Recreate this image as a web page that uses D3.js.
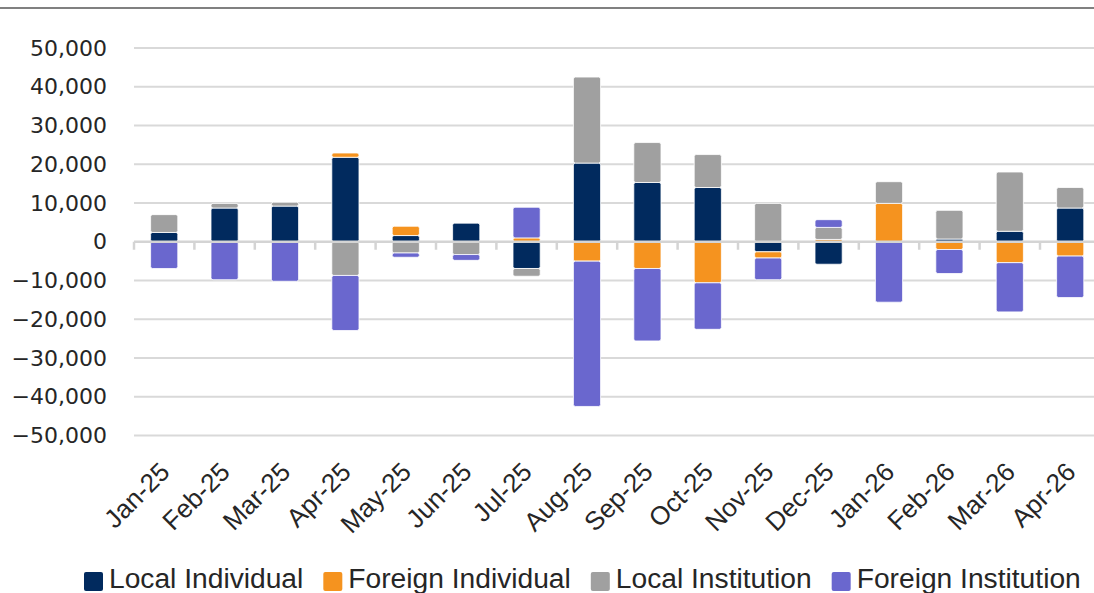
<!DOCTYPE html>
<html>
<head>
<meta charset="utf-8">
<script src="https://cdn.jsdelivr.net/npm/d3@7"></script>
<style>
  body { margin: 0; background: #fff; }
  svg { display: block; }
</style>
</head>
<body>
<div id="chart"></div>
<script>
const months = ['Jan-25', 'Feb-25', 'Mar-25', 'Apr-25', 'May-25', 'Jun-25', 'Jul-25', 'Aug-25',
  'Sep-25', 'Oct-25', 'Nov-25', 'Dec-25', 'Jan-26', 'Feb-26', 'Mar-26', 'Apr-26'];
const localIndividual = [2400, 8700, 9200, 21800, 1600, 4800, -6900, 20300, 15300, 14000, -2600, -5800, 0, 700, 2700, 8700];
const foreignIndividual = [0, 0, 0, 1100, 2400, 0, 1000, -5000, -6900, -10600, -1600, 600, 9900, -2000, -5400, -3700];
const localInstitution = [4600, 1200, 1000, -8700, -2900, -3300, -2000, 22200, 10300, 8500, 9900, 3100, 5600, 7400, 15300, 5300];
const foreignInstitution = [-6900, -9800, -10200, -14200, -1100, -1500, 7900, -37500, -18700, -12000, -5600, 2000, -15600, -6200, -12700, -10700];
const seriesNames = ['Local Individual', 'Foreign Individual', 'Local Institution', 'Foreign Institution'];
const yTicks = [-50000, -40000, -30000, -20000, -10000, 0, 10000, 20000, 30000, 40000, 50000];

const colors = ['#012a5e', '#f5931f', '#a0a0a0', '#6a67ce'];
const width = 1094, height = 593;

const table = months.map((m, i) => ({
  month: m,
  'Local Individual': localIndividual[i],
  'Foreign Individual': foreignIndividual[i],
  'Local Institution': localInstitution[i],
  'Foreign Institution': foreignInstitution[i],
}));

const svg = d3.select('#chart').append('svg')
  .attr('width', width)
  .attr('height', height);

// thin frame line at top
svg.append('line')
  .attr('x1', 0).attr('x2', width)
  .attr('y1', 8).attr('y2', 8)
  .attr('stroke', '#808080').attr('stroke-width', 2);

const x = d3.scaleBand().domain(months).range([134, 1100.4])
  .paddingInner(0.55).paddingOuter(0.275);
const y = d3.scaleLinear().domain([-50000, 50000]).range([435.5, 48]);

// gridlines
svg.append('g')
  .selectAll('line')
  .data(yTicks.filter(d => d !== 0))
  .join('line')
  .attr('x1', 134).attr('x2', 1100)
  .attr('y1', d => y(d)).attr('y2', d => y(d))
  .attr('stroke', '#d9d9d9').attr('stroke-width', 2);

// y axis labels
const yAxis = svg.append('g')
  .attr('transform', 'translate(107,0)')
  .call(d3.axisLeft(y).tickValues(yTicks).tickSize(0).tickPadding(0).tickFormat(d3.format(',')));
yAxis.select('.domain').remove();
yAxis.selectAll('text')
  .attr('font-family', '"DejaVu Sans", sans-serif')
  .attr('font-size', 22)
  .attr('fill', '#262626');

const stack = d3.stack().keys(seriesNames).offset(d3.stackOffsetDiverging);
const layers = stack(table);

svg.append('g')
  .selectAll('g')
  .data(layers)
  .join('g')
  .attr('fill', (d, i) => colors[i])
  .selectAll('rect')
  .data(d => d)
  .join('rect')
  .attr('x', d => x(d.data.month))
  .attr('width', x.bandwidth())
  .attr('y', d => y(Math.max(d[0], d[1])))
  .attr('height', d => Math.abs(y(d[0]) - y(d[1])))
  .attr('rx', 2)
  .attr('stroke', '#fff')
  .attr('stroke-width', 0.8);

// zero axis with category boundary ticks
const axisG = svg.append('g')
  .attr('transform', `translate(0,${y(0)})`);
axisG.append('line')
  .attr('x1', 134).attr('x2', 1100)
  .attr('stroke', '#d4d4d4').attr('stroke-width', 2.5);
const step = x.step();
axisG.selectAll('line.tick')
  .data(d3.range(months.length + 1))
  .join('line')
  .attr('class', 'tick')
  .attr('x1', i => 134 + i * step).attr('x2', i => 134 + i * step)
  .attr('y1', 0).attr('y2', 8)
  .attr('stroke', '#d4d4d4').attr('stroke-width', 2.5);

// rotated month labels
svg.append('g')
  .selectAll('text')
  .data(months)
  .join('text')
  .attr('transform', d => `translate(${x(d) + x.bandwidth() / 2 + 7},${y(-50000) + 38}) rotate(-45)`)
  .attr('text-anchor', 'end')
  .attr('font-family', '"Liberation Sans", Arial, sans-serif')
  .attr('font-size', 26)
  .attr('fill', '#262626')
  .text(d => d);

// legend
const legend = svg.append('g').attr('transform', 'translate(84,0)');
let lx = 0;
seriesNames.forEach((name, i) => {
  const item = legend.append('g').attr('transform', `translate(${lx},0)`);
  item.append('rect')
    .attr('x', 0).attr('y', 572)
    .attr('width', 19).attr('height', 19)
    .attr('rx', 2)
    .attr('fill', colors[i]);
  const t = item.append('text')
    .attr('x', 25).attr('y', 588)
    .attr('font-family', '"Liberation Sans", Arial, sans-serif')
    .attr('font-size', 28.2)
    .attr('fill', '#262626')
    .text(name);
  lx += 25 + t.node().getComputedTextLength() + 20;
});
</script>
</body>
</html>
